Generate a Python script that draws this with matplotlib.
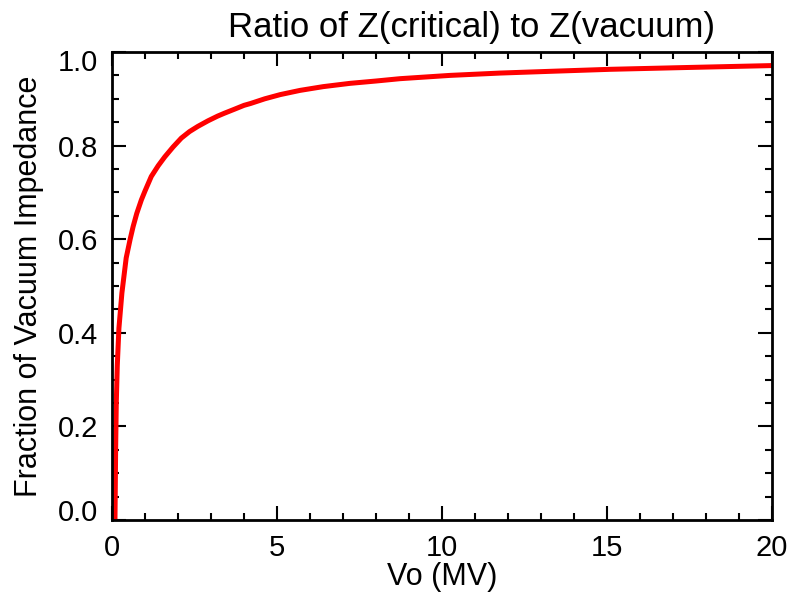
import matplotlib
matplotlib.use("Agg")
import matplotlib.pyplot as plt
from matplotlib.ticker import MultipleLocator
import matplotlib.transforms as mtransforms

plt.rcParams['font.family'] = ['Liberation Sans', 'DejaVu Sans']

# Data
vo_mv = [0.09, 0.10, 0.11, 0.13, 0.16, 0.21, 0.30, 0.43, 0.55, 0.64, 0.75, 0.89, 1.00,
         1.19, 1.40, 1.60, 1.85, 2.10, 2.35, 2.60, 2.91, 3.20, 3.40, 3.72, 4.00, 4.20,
         4.63, 5.10, 5.70, 6.40, 7.21, 8.00, 8.73, 10.24, 11.76, 13.40, 15.09, 17.50, 20.0]
fraction = [0.0, 0.07, 0.15, 0.25, 0.33, 0.41, 0.485, 0.56, 0.600, 0.627, 0.655, 0.684, 0.703,
            0.734, 0.757, 0.776, 0.797, 0.816, 0.830, 0.841, 0.853, 0.863, 0.869, 0.878, 0.886, 0.890,
            0.900, 0.909, 0.918, 0.926, 0.933, 0.938, 0.943, 0.950, 0.955, 0.959, 0.963, 0.967, 0.971]

title = "Ratio of Z(critical) to Z(vacuum)"
xlabel = "Vo (MV)"
ylabel = "Fraction of Vacuum Impedance"
xticks = [0, 5, 10, 15, 20]
yticks = [0.0, 0.2, 0.4, 0.6, 0.8, 1.0]
ytick_labels = ["0.0", "0.2", "0.4", "0.6", "0.8", "1.0"]

fig = plt.figure(figsize=(7.94, 6.01), dpi=100)
ax = fig.add_axes([112/794, 81/601, 660/794, 468/601])

ax.plot(vo_mv, fraction, color='#ff0000', lw=3.6, solid_capstyle='butt',
        solid_joinstyle='round')

ax.set_xlim(0, 20)
ax.set_ylim(0, 1.0)
ax.set_xticks(xticks)
ax.set_xticklabels([str(t) for t in xticks])
ax.set_yticks(yticks)
ax.set_yticklabels(ytick_labels)
ax.xaxis.set_minor_locator(MultipleLocator(1))
ax.yaxis.set_minor_locator(MultipleLocator(0.05))

ax.tick_params(which='both', direction='in', top=True, right=True,
               labelsize=21, colors='black', width=1.5)
ax.tick_params(which='major', length=10)
ax.tick_params(which='minor', length=5)
ax.tick_params(axis='x', which='major', pad=10)
ax.tick_params(axis='y', which='major', pad=10)

for sp in ax.spines.values():
    sp.set_linewidth(2.0)

fig.text(471/794, 1 - 28/601, title, fontsize=25, ha='center', va='center')
ax.set_xlabel(xlabel, fontsize=22, labelpad=0)
ax.set_ylabel(ylabel, fontsize=22, labelpad=10)

# shift first/last y tick labels inward like the reference
labels = ax.get_yticklabels()
labels[0].set_transform(labels[0].get_transform() +
                        mtransforms.ScaledTranslation(0, 10/100, fig.dpi_scale_trans))
labels[-1].set_transform(labels[-1].get_transform() +
                         mtransforms.ScaledTranslation(0, -8/100, fig.dpi_scale_trans))

fig.savefig("out.png", dpi=100)
